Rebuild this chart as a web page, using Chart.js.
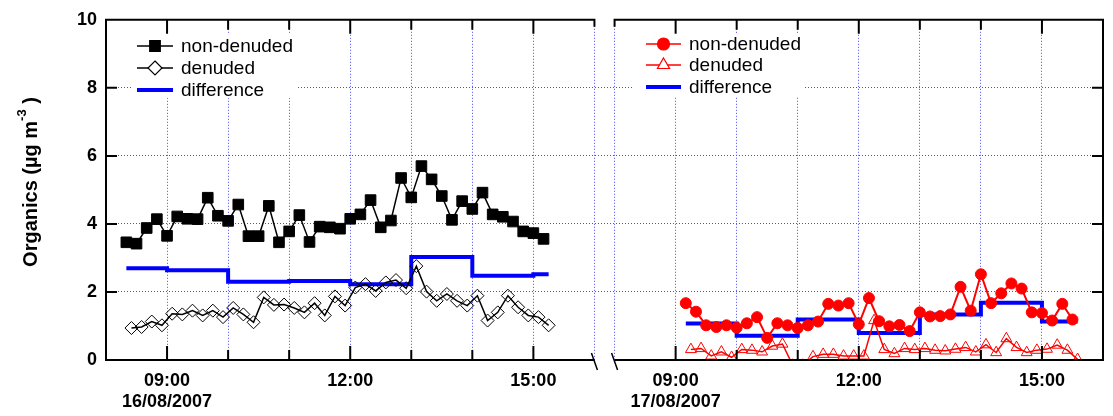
<!DOCTYPE html>
<html>
<head>
<meta charset="utf-8">
<script src="https://cdn.jsdelivr.net/npm/chart.js@4/dist/chart.umd.min.js"></script>
<style>
html,body{margin:0;padding:0;background:#fff;}
#wrap{position:relative;width:1113px;height:416px;}
</style>
</head>
<body>
<div id="wrap"><canvas id="c" width="1113" height="416"></canvas></div>
<script>
// ---------------- DATA ----------------
const DAY1_DATE = '16/08/2007';
const DAY2_DATE = '17/08/2007';
const HOUR_LABELS = {9: '09:00', 12: '12:00', 15: '15:00'};
const HOUR_TICKS = [8, 9, 10, 11, 12, 13, 14, 15, 16];

// Day 1 (16/08/2007)
const day1NonDenudedTimes = ['08:20','08:30','08:40','08:50','09:00','09:10','09:20','09:30','09:40','09:50',
  '10:00','10:10','10:20','10:30','10:40','10:50','11:00','11:10','11:20','11:30','11:40','11:50',
  '12:00','12:10','12:20','12:30','12:40','12:50','13:00','13:10','13:20','13:30','13:40','13:50',
  '14:00','14:10','14:20','14:30','14:40','14:50','15:00','15:10'];
const day1NonDenuded = [3.46,3.42,3.88,4.14,3.65,4.22,4.15,4.14,4.77,4.24,
  4.09,4.57,3.64,3.64,4.53,3.46,3.78,4.26,3.47,3.92,3.90,3.86,
  4.15,4.28,4.70,3.90,4.10,5.35,4.78,5.70,5.31,4.82,4.12,4.67,
  4.44,4.92,4.28,4.21,4.07,3.78,3.73,3.56];
const day1DenudedTimes = ['08:25','08:35','08:45','08:55','09:05','09:15','09:25','09:35','09:45','09:55',
  '10:05','10:15','10:25','10:35','10:45','10:55','11:05','11:15','11:25','11:35','11:45','11:55',
  '12:05','12:15','12:25','12:35','12:45','12:55','13:05','13:15','13:25','13:35','13:45','13:55',
  '14:05','14:15','14:25','14:35','14:45','14:55','15:05','15:15'];
const day1Denuded = [0.94,0.97,1.13,1.02,1.36,1.34,1.45,1.31,1.45,1.26,
  1.53,1.34,1.11,1.84,1.62,1.63,1.53,1.40,1.67,1.31,1.87,1.60,
  2.13,2.23,2.03,2.28,2.35,2.11,2.76,2.01,1.74,1.94,1.74,1.60,
  1.89,1.16,1.40,1.89,1.55,1.31,1.26,1.02];
const day1DiffTimes = ['08:20','09:00','10:00','11:00','12:00','13:00','14:00','15:00','15:15'];
const day1Diff = [2.70,2.64,2.30,2.32,2.23,3.03,2.48,2.52,2.52];

// Day 2 (17/08/2007)
const day2NonDenudedTimes = ['09:10','09:20','09:30','09:40','09:50',
  '10:00','10:10','10:20','10:30','10:40','10:50','11:00','11:10','11:20','11:30','11:40','11:50',
  '12:00','12:10','12:20','12:30','12:40','12:50','13:00','13:10','13:20','13:30','13:40','13:50',
  '14:00','14:10','14:20','14:30','14:40','14:50','15:00','15:10','15:20','15:30'];
const day2NonDenuded = [1.67,1.42,1.02,0.97,1.02,
  0.95,1.08,1.26,0.65,1.08,1.02,0.94,1.02,1.13,1.65,1.60,1.67,
  1.05,1.82,1.14,0.99,1.03,0.85,1.40,1.28,1.29,1.34,2.15,1.45,
  2.52,1.67,1.96,2.25,2.10,1.40,1.38,1.16,1.65,1.19];
const day2DenudedTimes = ['09:15','09:25','09:35','09:45','09:55',
  '10:05','10:15','10:25','10:35','10:45','10:55','11:05','11:15','11:25','11:35','11:45','11:55',
  '12:05','12:15','12:25','12:35','12:45','12:55','13:05','13:15','13:25','13:35','13:45','13:55',
  '14:05','14:15','14:25','14:35','14:45','14:55','15:05','15:15','15:25','15:35'];
const day2Denuded = [0.31,0.34,0.12,0.24,0.08,
  0.31,0.29,0.24,0.41,0.47,-0.15,-0.15,0.10,0.17,0.17,0.12,0.12,
  0.12,1.16,0.31,0.19,0.34,0.31,0.34,0.29,0.27,0.32,0.37,0.24,
  0.45,0.22,0.63,0.37,0.22,0.29,0.32,0.44,0.29,0.02];
const day2DiffTimes = ['09:10','10:00','11:00','12:00','13:00','14:00','15:00','15:35'];
const day2Diff = [1.07,0.71,1.19,0.79,1.34,1.68,1.13,1.13];

const SERIES_NAMES = ['non-denuded', 'denuded', 'difference'];

// ---------------- LAYOUT / STYLE ----------------
const DAY2_SHIFT = 8.33;   // hours: where day 2 sits after the axis break
const BLACK = '#000000', RED = '#ff0000', BLUE = '#0000ff', GRID = '#4747ff';

const toHours = s => { const p = s.split(':'); return +p[0] + (+p[1]) / 60; };
const pts = (times, vals, shift) => times.map((t, i) => ({x: toHours(t) + shift, y: vals[i]}));

const xTickValues = HOUR_TICKS.concat(HOUR_TICKS.map(h => h + DAY2_SHIFT));
const edgeVals = [8, 16 + DAY2_SHIFT];

function tickLabel(v) {
  const day2 = v > 16.1;
  const h = Math.round(day2 ? v - DAY2_SHIFT : v);
  const lab = HOUR_LABELS[h];
  if (!lab) return '';
  if (h === 9) return [lab, day2 ? DAY2_DATE : DAY1_DATE];
  return lab;
}

function pathMarker(ctx, style, x, y, r) {
  ctx.beginPath();
  if (style === 'rect') {
    const s = r * Math.SQRT1_2;
    ctx.rect(x - s, y - s, 2 * s, 2 * s);
  } else if (style === 'rectRot') {
    ctx.moveTo(x, y - r); ctx.lineTo(x + r, y); ctx.lineTo(x, y + r); ctx.lineTo(x - r, y); ctx.closePath();
  } else if (style === 'circle') {
    ctx.arc(x, y, r, 0, Math.PI * 2);
  } else if (style === 'triangle') {
    for (let k = 0; k < 3; k++) {
      const a = k * 2 * Math.PI / 3;
      const px = x + Math.sin(a) * r, py = y - Math.cos(a) * r;
      k ? ctx.lineTo(px, py) : ctx.moveTo(px, py);
    }
    ctx.closePath();
  }
}

const LEGENDS = [
  {box: [133, 34, 163, 64], lineX: [137, 173], textX: 181, rows: [46, 68, 90],
   items: [
     {color: BLACK, lw: 1.5, style: 'rect', r: 7.5, fill: BLACK},
     {color: BLACK, lw: 1.5, style: 'rectRot', r: 7, fill: '#ffffff'},
     {color: BLUE, lw: 4, style: null}
   ]},
  {box: [633, 33, 170, 64], lineX: [646, 681], textX: 689, rows: [44, 65, 87],
   items: [
     {color: RED, lw: 1.5, style: 'circle', r: 6, fill: RED},
     {color: RED, lw: 1.5, style: 'triangle', r: 7, fill: '#ffffff'},
     {color: BLUE, lw: 4, style: null}
   ]}
];

const decorations = {
  id: 'decorations',
  afterDatasetsDraw(chart) {
    const ctx = chart.ctx;
    const xs = chart.scales.x, ys = chart.scales.y;
    ctx.save();
    // legends
    LEGENDS.forEach(L => {
      ctx.fillStyle = '#ffffff';
      ctx.fillRect(L.box[0], L.box[1], L.box[2], L.box[3]);
      L.items.forEach((it, i) => {
        const yy = L.rows[i];
        ctx.strokeStyle = it.color; ctx.lineWidth = it.lw;
        ctx.beginPath(); ctx.moveTo(L.lineX[0], yy); ctx.lineTo(L.lineX[1], yy); ctx.stroke();
        if (it.style) {
          const cx = (L.lineX[0] + L.lineX[1]) / 2;
          pathMarker(ctx, it.style, cx, yy, it.r);
          ctx.fillStyle = it.fill; ctx.fill();
          ctx.lineWidth = 1.2; ctx.strokeStyle = it.color; ctx.stroke();
        }
        ctx.fillStyle = '#000';
        ctx.font = '19px "Liberation Sans", Arial, sans-serif';
        ctx.textBaseline = 'middle'; ctx.textAlign = 'left';
        ctx.fillText(SERIES_NAMES[i], L.textX, yy + 1);
      });
    });
    // frame with axis break
    const xL = xs.getPixelForValue(8), xGL = xs.getPixelForValue(16);
    const xGR = xs.getPixelForValue(8 + DAY2_SHIFT), xR = xs.getPixelForValue(16 + DAY2_SHIFT);
    const yT = ys.getPixelForValue(10), yB = ys.getPixelForValue(0);
    ctx.strokeStyle = '#000'; ctx.lineWidth = 2; ctx.lineCap = 'butt';
    ctx.beginPath();
    ctx.moveTo(xGL, yT + 7); ctx.lineTo(xGL, yT); ctx.lineTo(xL, yT); ctx.lineTo(xL, yB); ctx.lineTo(xGL, yB);
    ctx.moveTo(xGR, yT + 7); ctx.lineTo(xGR, yT); ctx.lineTo(xR, yT); ctx.lineTo(xR, yB); ctx.lineTo(xGR, yB);
    ctx.stroke();
    ctx.lineWidth = 1.5;
    ctx.beginPath();
    ctx.moveTo(xGL - 3, yB - 7); ctx.lineTo(xGL + 3, yB + 10);
    ctx.moveTo(xGR - 3, yB - 7); ctx.lineTo(xGR + 3, yB + 10);
    ctx.stroke();
    // ticks
    ctx.lineWidth = 2;
    ctx.beginPath();
    [2, 4, 6, 8].forEach(v => {
      const py = ys.getPixelForValue(v);
      ctx.moveTo(xL, py); ctx.lineTo(xL + 11, py);
      ctx.moveTo(xR, py); ctx.lineTo(xR - 11, py);
    });
    [0, DAY2_SHIFT].forEach(sh => {
      HOUR_TICKS.slice(1, -1).forEach(h => {
        const px = xs.getPixelForValue(h + sh);
        const len = (h % 3 === 0) ? 14 : 10;
        ctx.moveTo(px, yB); ctx.lineTo(px, yB - len);
        ctx.moveTo(px, yT); ctx.lineTo(px, yT + len);
      });
    });
    ctx.stroke();
    // y-axis title
    ctx.translate(31, 182);
    ctx.rotate(-Math.PI / 2);
    ctx.fillStyle = '#000';
    ctx.textBaseline = 'middle';
    const f1 = 'bold 20px "Liberation Sans", Arial, sans-serif';
    const f2 = 'bold 13px "Liberation Sans", Arial, sans-serif';
    const a = 'Organics (\u00b5g m', b = '-3', c = ' )';
    ctx.font = f1; const wa = ctx.measureText(a).width, wc = ctx.measureText(c).width;
    ctx.font = f2; const wb = ctx.measureText(b).width;
    let x0 = -(wa + wb + wc) / 2;
    ctx.textAlign = 'left';
    ctx.font = f1; ctx.fillText(a, x0, 0);
    ctx.font = f2; ctx.fillText(b, x0 + wa, -9);
    ctx.font = f1; ctx.fillText(c, x0 + wa + wb, 0);
    ctx.restore();
  }
};

const gridColor = ctx => {
  const v = ctx.tick ? ctx.tick.value : null;
  if (v === null) return 'rgba(0,0,0,0)';
  if (ctx.scale.axis === 'y') return (v <= 0 || v >= 10) ? 'rgba(0,0,0,0)' : GRID;
  return edgeVals.some(e => Math.abs(e - v) < 1e-6) ? 'rgba(0,0,0,0)' : GRID;
};

new Chart(document.getElementById('c'), {
  type: 'line',
  data: {
    datasets: [
      {label: 'non-denuded 16/08', data: pts(day1NonDenudedTimes, day1NonDenuded, 0),
       borderColor: BLACK, borderWidth: 1.5, pointStyle: 'rect', pointRadius: 7.5,
       pointBackgroundColor: BLACK, pointBorderColor: BLACK, pointBorderWidth: 1, order: 1},
      {label: 'denuded 16/08', data: pts(day1DenudedTimes, day1Denuded, 0),
       borderColor: BLACK, borderWidth: 1.5, pointStyle: 'rectRot', pointRadius: 6.5,
       pointBackgroundColor: 'rgba(0,0,0,0)', pointBorderColor: BLACK, pointBorderWidth: 1, order: 2},
      {label: 'difference 16/08', data: pts(day1DiffTimes, day1Diff, 0),
       borderColor: BLUE, borderWidth: 4, stepped: 'before', pointRadius: 0, order: 3},
      {label: 'non-denuded 17/08', data: pts(day2NonDenudedTimes, day2NonDenuded, DAY2_SHIFT),
       borderColor: RED, borderWidth: 2, pointStyle: 'circle', pointRadius: 5.5,
       pointBackgroundColor: RED, pointBorderColor: RED, pointBorderWidth: 1, order: 1},
      {label: 'denuded 17/08', data: pts(day2DenudedTimes, day2Denuded, DAY2_SHIFT),
       borderColor: RED, borderWidth: 1.5, pointStyle: 'triangle', pointRadius: 6.3,
       pointBackgroundColor: 'rgba(0,0,0,0)', pointBorderColor: RED, pointBorderWidth: 1, order: 2,
       clip: {left: 10, right: 10, top: 10, bottom: 0}},
      {label: 'difference 17/08', data: pts(day2DiffTimes, day2Diff, DAY2_SHIFT),
       borderColor: BLUE, borderWidth: 4, stepped: 'before', pointRadius: 0, order: 3}
    ]
  },
  options: {
    responsive: false,
    devicePixelRatio: 1,
    animation: false,
    events: [],
    layout: {autoPadding: false, padding: {top: 16, right: 0, left: 0, bottom: 0}},
    elements: {line: {tension: 0, fill: false}},
    plugins: {legend: {display: false}, tooltip: {enabled: false}},
    scales: {
      x: {
        type: 'linear', position: 'bottom',
        min: 8, max: 16 + DAY2_SHIFT,
        afterBuildTicks: s => { s.ticks = xTickValues.map(v => ({value: v})); },
        afterFit: s => { s.height = 56; },
        ticks: {
          autoSkip: false, maxRotation: 0, minRotation: 0, padding: 10,
          color: '#000', font: {family: '"Liberation Sans", Arial, sans-serif', size: 18, weight: 'bold', lineHeight: 1.2},
          callback: v => tickLabel(v)
        },
        grid: {color: gridColor, lineWidth: 1, drawTicks: false},
        border: {display: false, dash: [1, 2]}
      },
      y: {
        min: 0, max: 10,
        afterFit: s => { s.width = 106; },
        ticks: {
          stepSize: 2, padding: 9, color: '#000',
          font: {family: '"Liberation Sans", Arial, sans-serif', size: 18, weight: 'bold'}
        },
        grid: {color: gridColor, lineWidth: 1, drawTicks: false},
        border: {display: false, dash: [1, 2]}
      }
    }
  },
  plugins: [decorations]
});
</script>
</body>
</html>
